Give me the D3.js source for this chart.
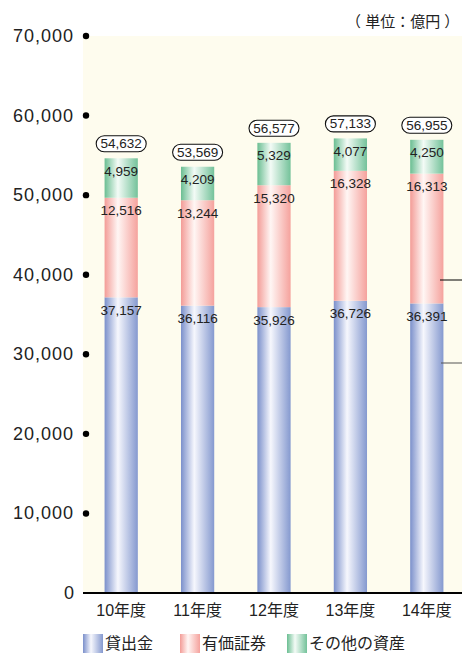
<!DOCTYPE html>
<html>
<head>
<meta charset="utf-8">
<script src="https://cdn.jsdelivr.net/npm/d3@7"></script>
<style>
  html, body { margin: 0; padding: 0; background: #fff; }
  svg { display: block; }
  text { font-family: "Liberation Sans", Arial, "Noto Sans CJK JP", sans-serif; fill: #222; }
</style>
</head>
<body>
<svg id="chart" width="462" height="653"></svg>
<script>
// Fiscal years
const categories = ["10年度", "11年度", "12年度", "13年度", "14年度"];
// Asset breakdown (億円)
const loans      = [37157, 36116, 35926, 36726, 36391];
const securities = [12516, 13244, 15320, 16328, 16313];
const others     = [4959, 4209, 5329, 4077, 4250];
// Stated totals shown above each column
const totals     = [54632, 53569, 56577, 57133, 56955];
// Axis ticks
const yTicks = [0, 10000, 20000, 30000, 40000, 50000, 60000, 70000];
const seriesNames = ["貸出金", "有価証券", "その他の資産"];

const W = 462, H = 653;
const plot = { left: 83, right: 465, top: 36, bottom: 593 };

const svg = d3.select("#chart");
const defs = svg.append("defs");

// Cylinder-like horizontal gradients for each series
const palette = [
  { id: "gLoan",  edge: "#7B90CB", edge2: "#8599CF", mid: "#F6F7FD" },
  { id: "gSec",   edge: "#F39C97", edge2: "#F5A29D", mid: "#FFF6F4" },
  { id: "gOther", edge: "#6BBE92", edge2: "#74C29A", mid: "#F3FBF6" }
];
palette.forEach(p => {
  const g = defs.append("linearGradient").attr("id", p.id)
    .attr("x1", "0%").attr("x2", "100%").attr("y1", "0%").attr("y2", "0%");
  g.append("stop").attr("offset", "0%").attr("stop-color", p.edge);
  g.append("stop").attr("offset", "40%").attr("stop-color", p.mid);
  g.append("stop").attr("offset", "100%").attr("stop-color", p.edge2);
});

const x = d3.scaleBand()
  .domain(categories)
  .range([plot.left, plot.right])
  .paddingInner(0.565)
  .paddingOuter(0.2825);

const y = d3.scaleLinear().domain([0, 70000]).range([plot.bottom, plot.top]);

// Plot background panel
svg.append("rect")
  .attr("x", plot.left).attr("y", y(70000))
  .attr("width", W - plot.left).attr("height", y(0) - y(70000))
  .attr("fill", "#FEFCEE");

// Y axis labels with dot markers
const yAxis = svg.append("g");
yTicks.forEach(t => {
  yAxis.append("text")
    .attr("x", t === 0 ? 75 : 74).attr("y", y(t))
    .attr("text-anchor", "end")
    .attr("dominant-baseline", "central")
    .attr("font-size", 18)
    .attr("letter-spacing", 1)
    .text(d3.format(",")(t));
  if (t !== 0) {
    yAxis.append("circle")
      .attr("cx", 86).attr("cy", y(t)).attr("r", 3.2)
      .attr("fill", "#000");
  }
});

// Stack the three series
const rows = categories.map((c, i) => ({
  cat: c, loans: loans[i], securities: securities[i], others: others[i]
}));
const keys = ["loans", "securities", "others"];
const stack = d3.stack().keys(keys)(rows);
const fills = ["url(#gLoan)", "url(#gSec)", "url(#gOther)"];

stack.forEach((layer, li) => {
  const g = svg.append("g");
  g.selectAll("rect").data(layer).enter().append("rect")
    .attr("x", d => x(d.data.cat))
    .attr("y", d => y(d[1]))
    .attr("width", x.bandwidth())
    .attr("height", d => y(d[0]) - y(d[1]))
    .attr("fill", fills[li]);
});

// Segment value labels, near the top of each segment
stack.forEach(layer => {
  svg.append("g").selectAll("text").data(layer).enter().append("text")
    .attr("x", d => x(d.data.cat) + x.bandwidth() / 2)
    .attr("y", d => y(d[1]) + 13)
    .attr("text-anchor", "middle")
    .attr("dominant-baseline", "central")
    .attr("font-size", 13.5)
    .text(d => d3.format(",")(d[1] - d[0]));
});

// Total labels in rounded boxes above each column
const totalG = svg.append("g");
categories.forEach((c, i) => {
  const cx = x(c) + x.bandwidth() / 2;
  const top = y(stack[2][i][1]);
  const cy = top - 14.5;
  totalG.append("rect")
    .attr("x", cx - 25).attr("y", cy - 8)
    .attr("width", 50).attr("height", 16)
    .attr("rx", 8).attr("ry", 8)
    .attr("fill", "#fff").attr("stroke", "#111").attr("stroke-width", 1.1);
  totalG.append("text")
    .attr("x", cx).attr("y", cy)
    .attr("text-anchor", "middle")
    .attr("dominant-baseline", "central")
    .attr("font-size", 13.5)
    .text(d3.format(",")(totals[i]));
});

// Baseline
svg.append("line")
  .attr("x1", plot.left).attr("x2", W)
  .attr("y1", y(0)).attr("y2", y(0))
  .attr("stroke", "#000").attr("stroke-width", 2.2);

// Category labels
svg.append("g").selectAll("text").data(categories).enter().append("text")
  .attr("x", d => x(d) + x.bandwidth() / 2)
  .attr("y", 610)
  .attr("text-anchor", "middle")
  .attr("dominant-baseline", "central")
  .attr("font-size", 16)
  .text(d => d);

// Short leader lines at the right edge
svg.append("line").attr("x1", 440).attr("x2", W).attr("y1", 280).attr("y2", 280)
  .attr("stroke", "#000").attr("stroke-width", 1);
svg.append("line").attr("x1", 441).attr("x2", W).attr("y1", 363).attr("y2", 363)
  .attr("stroke", "#555").attr("stroke-width", 1);

// Unit note
svg.append("text")
  .attr("x", 346).attr("y", 21)
  .attr("text-anchor", "start")
  .attr("dominant-baseline", "central")
  .attr("font-size", 15)
  .attr("font-family", "'Noto Sans CJK JP', sans-serif")
  .text("（ 単位：億円 ）");

// Legend
const legendX = [83, 180, 287];
const legend = svg.append("g");
seriesNames.forEach((name, i) => {
  legend.append("rect")
    .attr("x", legendX[i]).attr("y", 634)
    .attr("width", 20).attr("height", 19)
    .attr("fill", fills[i]);
  legend.append("text")
    .attr("x", legendX[i] + 22).attr("y", 643)
    .attr("dominant-baseline", "central")
    .attr("font-size", 16)
    .attr("font-family", "'Noto Sans CJK JP', sans-serif")
    .text(name);
});
</script>
</body>
</html>
